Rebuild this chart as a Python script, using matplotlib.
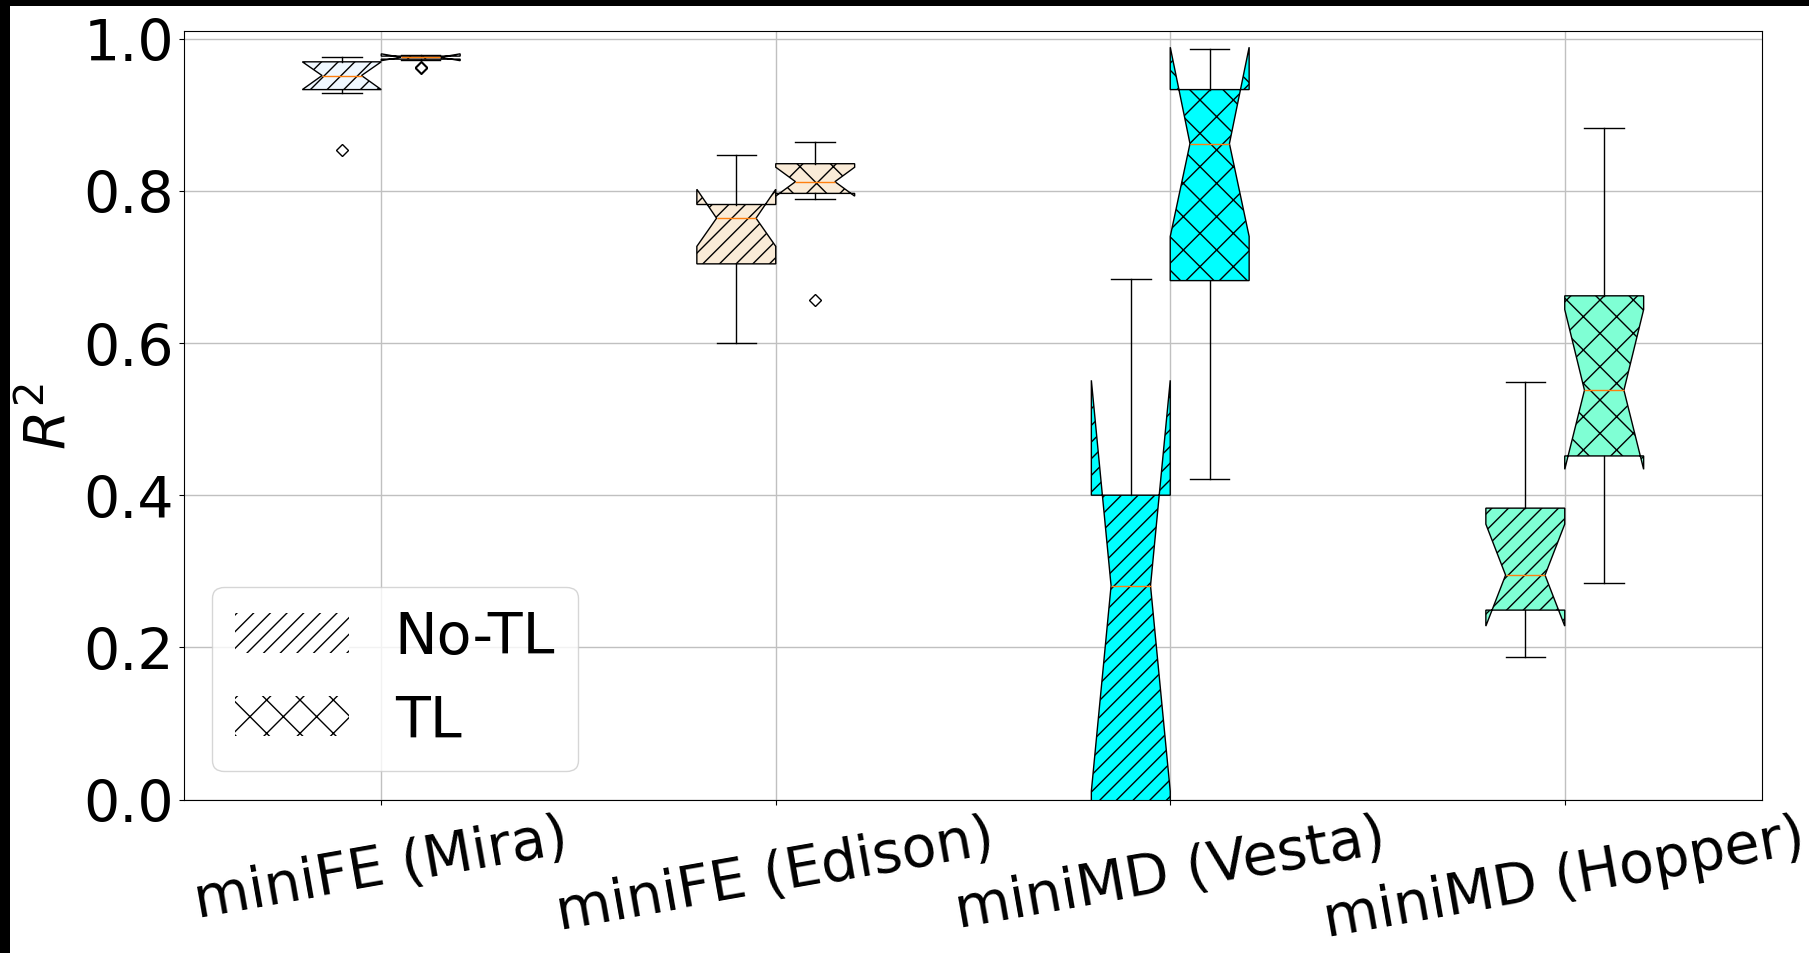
import matplotlib
matplotlib.use("Agg")
import matplotlib.pyplot as plt
from matplotlib.patches import Patch, Rectangle

# categories and colours
labels = ["miniFE (Mira)", "miniFE (Edison)", "miniMD (Vesta)", "miniMD (Hopper)"]
colors = ["aliceblue", "antiquewhite", "aqua", "aquamarine"]

# No-TL box statistics
notl_whislo = [0.928, 0.600, -0.50, 0.188]
notl_q1 = [0.933, 0.704, -0.10, 0.249]
notl_med = [0.9515, 0.764, 0.281, 0.295]
notl_q3 = [0.9695, 0.782, 0.400, 0.383]
notl_whishi = [0.976, 0.8465, 0.684, 0.549]
notl_cilo = [0.933, 0.727, 0.011, 0.228]
notl_cihi = [0.9695, 0.802, 0.551, 0.362]
notl_fliers = [[0.854], [], [], []]

# TL box statistics
tl_whislo = [0.972, 0.789, 0.421, 0.284]
tl_q1 = [0.973, 0.7966, 0.682, 0.4516]
tl_med = [0.9755, 0.812, 0.862, 0.538]
tl_q3 = [0.977, 0.8356, 0.933, 0.662]
tl_whishi = [0.978, 0.8645, 0.9866, 0.883]
tl_cilo = [0.971, 0.793, 0.740, 0.434]
tl_cihi = [0.980, 0.831, 0.9887, 0.644]
tl_fliers = [[0.961, 0.963], [0.6565], [], []]

FS = 41


def make_stats(whislo, q1, med, q3, whishi, cilo, cihi, fliers):
    out = []
    for i in range(len(med)):
        out.append(dict(whislo=whislo[i], q1=q1[i], med=med[i], q3=q3[i],
                        whishi=whishi[i], cilo=cilo[i], cihi=cihi[i],
                        fliers=fliers[i]))
    return out


def draw(ax, stats, positions, hatch):
    bp = ax.bxp(stats, positions=positions, widths=0.2, patch_artist=True,
                shownotches=True, manage_ticks=False,
                boxprops=dict(edgecolor="black", linewidth=1.0),
                whiskerprops=dict(color="black", linewidth=1.0),
                capprops=dict(color="black", linewidth=1.0),
                medianprops=dict(color="C1", linewidth=1.0),
                flierprops=dict(marker="D", markerfacecolor="none",
                                markeredgecolor="black", markersize=6.5))
    for box, c in zip(bp["boxes"], colors):
        box.set_facecolor(c)
        box.set_hatch(hatch)
    return bp


def main():
    fig = plt.figure(figsize=(18.09, 9.54), dpi=100)
    ax = fig.add_axes([184 / 1809, 1 - 800.6 / 954, 1578 / 1809, 768.6 / 954])

    xs = list(range(1, len(labels) + 1))
    draw(ax, make_stats(notl_whislo, notl_q1, notl_med, notl_q3, notl_whishi,
                        notl_cilo, notl_cihi, notl_fliers),
         [x - 0.1 for x in xs], "//")
    draw(ax, make_stats(tl_whislo, tl_q1, tl_med, tl_q3, tl_whishi,
                        tl_cilo, tl_cihi, tl_fliers),
         [x + 0.1 for x in xs], "x")

    ax.set_xlim(0.5, 4.5)
    ax.set_ylim(0, 1.01)
    ax.set_yticks([0.0, 0.2, 0.4, 0.6, 0.8, 1.0])
    ax.set_xticks(xs)
    ax.set_xticklabels(labels, rotation=10, fontsize=FS)
    ax.tick_params(axis="y", labelsize=FS)
    ax.set_ylabel("$R^2$", fontsize=FS)
    ax.grid(True, color="#c0c0c0", linewidth=1.0)
    ax.set_axisbelow(True)

    handles = [Patch(facecolor="white", edgecolor="black", hatch="//", linewidth=0),
               Patch(facecolor="white", edgecolor="black", hatch="x", linewidth=0)]
    ax.legend(handles, ["No-TL", "TL"], loc="lower left", fontsize=FS)

    # black strips on the top and left edges
    fig.add_artist(Rectangle((0, 1 - 7 / 954), 1, 7 / 954, transform=fig.transFigure,
                             facecolor="black", edgecolor="none"))
    fig.add_artist(Rectangle((0, 0), 10 / 1809, 1, transform=fig.transFigure,
                             facecolor="black", edgecolor="none"))

    fig.savefig("out.png", dpi=100)
    plt.close(fig)


if __name__ == "__main__":
    main()
